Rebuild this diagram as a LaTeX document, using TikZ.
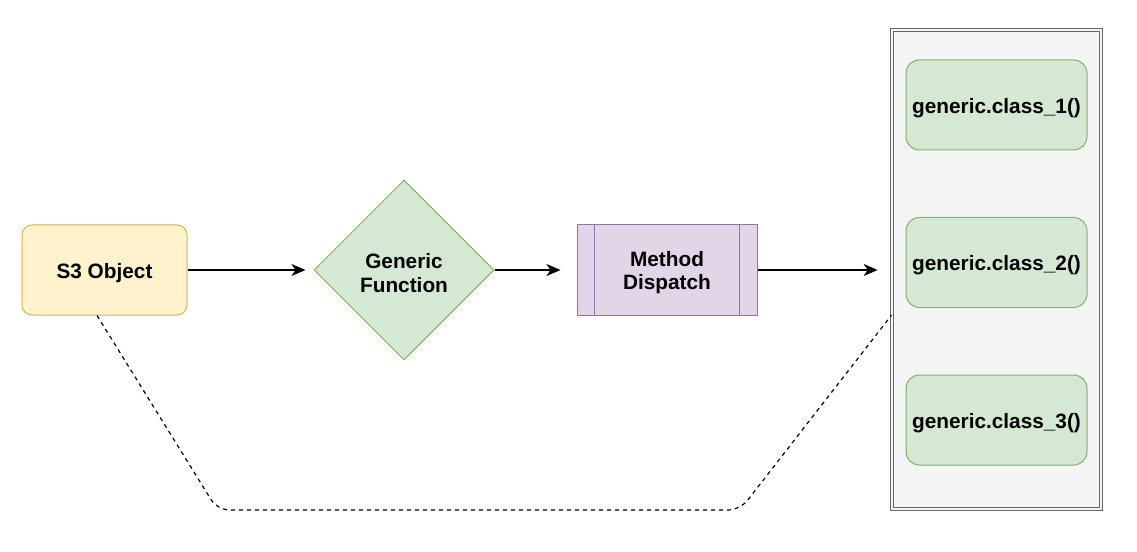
\documentclass[tikz,border=0pt]{standalone}
\usepackage{fontspec}
\setmainfont{Liberation Sans}
\usetikzlibrary{shapes.geometric,arrows.meta,calc}
\definecolor{yfill}{HTML}{FFF2CC}\definecolor{ydraw}{HTML}{D6B656}
\definecolor{gfill}{HTML}{D5E8D4}\definecolor{gdraw}{HTML}{82B366}
\definecolor{pfill}{HTML}{E1D5E7}\definecolor{pdraw}{HTML}{9673A6}
\definecolor{cfill}{HTML}{F5F5F5}\definecolor{cdraw}{HTML}{666666}
\tikzset{
  lbl/.style={font=\bfseries\fontsize{15.6pt}{17.5pt}\selectfont, align=center, text=black, inner sep=0pt},
  objbox/.style={draw=ydraw, fill=yfill, line width=0.75pt, rounded corners=7.5pt, minimum width=123.75pt, minimum height=67.5pt, inner sep=0pt},
  fnbox/.style={diamond, aspect=1, draw=gdraw, fill=gfill, line width=0.75pt, minimum width=135pt, minimum height=135pt, inner sep=0pt},
  procbox/.style={draw=pdraw, fill=pfill, line width=0.75pt, minimum width=135pt, minimum height=67.5pt, inner sep=0pt},
  holder/.style={draw=cdraw, double=cfill, double distance=1.6pt, line width=0.8pt, fill=cfill, minimum width=156.5pt, minimum height=359pt, inner sep=0pt},
  methbox/.style={draw=gdraw, fill=gfill, line width=0.75pt, rounded corners=10pt, minimum width=135.75pt, minimum height=67.5pt, inner sep=0pt},
  flow/.style={-{Stealth[length=10.5pt,width=9pt,inset=3pt]}, line width=1pt, black},
  link/.style={dashed, dash pattern=on 3pt off 3pt, line width=0.9pt, black, rounded corners=9pt}
}
\begin{document}
\begin{tikzpicture}[x=0.75pt,y=-0.75pt]
\useasboundingbox (0,0) rectangle (1137,552);
\node[objbox, label={[lbl, yshift=-2.2pt]center:{S3 Object}}] (s3) at (104.5,270) {};
\node[fnbox, label={[lbl, yshift=-2.2pt]center:{Generic\\Function}}] (gf) at (404,270) {};
\node[procbox, label={[lbl, yshift=-2.2pt]center:{Method\\Dispatch}}] (md) at (667,270) {};
\draw[pdraw, line width=0.75pt] ([xshift=13.5pt]md.north west) -- ([xshift=13.5pt]md.south west);
\draw[pdraw, line width=0.75pt] ([xshift=-13.5pt]md.north east) -- ([xshift=-13.5pt]md.south east);
\node[holder] (ct) at (996.5,269.5) {};
\node[methbox, label={[lbl, yshift=-2.2pt]center:{generic.class\_1()}}] (m1) at (996.5,105) {};
\node[methbox, label={[lbl, yshift=-2.2pt]center:{generic.class\_2()}}] (m2) at (996.5,262.5) {};
\node[methbox, label={[lbl, yshift=-2.2pt]center:{generic.class\_3()}}] (m3) at (996.5,420) {};
\draw[flow, shorten >=6pt] (s3.east) -- (gf.west);
\draw[flow, shorten >=12pt] (gf.east) -- (md.west);
\draw[flow, shorten >=10.5pt] (md.east) -- (md.east -| ct.west);
\coordinate (a) at ($(s3.south)+(-5.6pt,0)$);
\coordinate (b) at (ct.west |- 0,315);
\draw[link] (a) -- (217.5,510) -- (740,510) -- (b);
\end{tikzpicture}
\end{document}
